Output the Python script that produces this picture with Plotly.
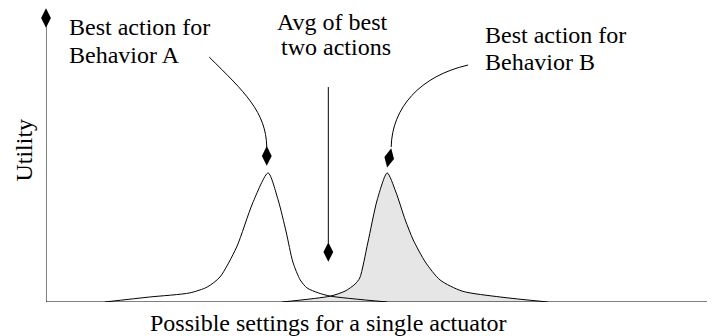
import plotly.graph_objects as go

# utility curves (x = actuator setting, y = utility)
behavior_a_x = [8.8, 15.5, 21.5, 24.1, 26.0, 28.5, 30.9, 33.2, 34.7, 35.9, 36.9, 38.0, 39.0, 40.7, 42.5, 51.0]
behavior_a_y = [0, 1.7, 3.1, 5.1, 8.5, 18.7, 33.7, 43.9, 34.7, 23.8, 13.6, 7.5, 4.8, 3.1, 2.0, 0]

behavior_b_x = [35.3, 42.5, 44.7, 46.2, 46.9, 48.1, 49.5, 51.0, 52.3, 53.7, 54.9, 56.7, 58.9, 62.2, 67.9, 75.0]
behavior_b_y = [0, 2.0, 3.7, 6.1, 8.2, 20.1, 34.7, 43.9, 37.4, 27.9, 21.1, 13.6, 7.5, 3.7, 1.7, 0]

# arrow tips: y axis, x axis, behavior A, average, behavior B
tip_x = [0, 100.3, 33.0, 42.2, 51.3]
tip_y = [96.6, 0, 49.7, 17.0, 49.0]
tip_angle = [0, 90, 0, 0, 12]

font = dict(family='Liberation Serif', size=24, color='black')

fig = go.Figure()

fig.add_trace(go.Scatter(x=behavior_b_x, y=behavior_b_y, mode='lines',
                         line=dict(color='black', width=1, shape='spline', smoothing=0.7),
                         fill='tozeroy', fillcolor='#e6e6e6', hoverinfo='skip'))
fig.add_trace(go.Scatter(x=behavior_a_x, y=behavior_a_y, mode='lines',
                         line=dict(color='black', width=1, shape='spline', smoothing=0.7),
                         hoverinfo='skip'))

# axes
fig.add_shape(type='line', x0=0, y0=0, x1=100, y1=0, line=dict(color='black', width=1))
fig.add_shape(type='line', x0=0, y0=0, x1=0, y1=96.6, line=dict(color='black', width=1))

# pointer arrows
fig.add_shape(type='path', path='M 24.4 83.3 C 29.7 71.4, 32.9 64.6, 33.0 52.7',
              line=dict(color='black', width=1))
fig.add_shape(type='line', x0=42.2, y0=73.1, x1=42.2, y1=20.1, line=dict(color='black', width=1))
fig.add_shape(type='path', path='M 63.1 80.6 C 55.9 76.9, 51.7 66.0, 51.6 52.7',
              line=dict(color='black', width=1))

fig.add_trace(go.Scatter(x=tip_x, y=tip_y, mode='markers', cliponaxis=False,
                         marker=dict(symbol='diamond-tall', size=14, color='black',
                                     angle=tip_angle, line=dict(width=0)),
                         hoverinfo='skip'))

labels = [
    ('Best action for', 0.0333, 0.937),
    ('Behavior A', 0.0333, 0.840),
    ('Avg of best', 0.344, 0.954),
    ('two actions', 0.350, 0.869),
    ('Best action for', 0.655, 0.909),
    ('Behavior B', 0.655, 0.815),
]
for text, x, y in labels:
    fig.add_annotation(text=text, x=x, y=y, xref='paper', yref='paper', showarrow=False,
                       xanchor='left', yanchor='middle', borderpad=0, font=font)

fig.add_annotation(text='Possible settings for a single actuator', x=0.423, y=-0.072,
                   xref='paper', yref='paper', showarrow=False, xanchor='center', yanchor='middle',
                   borderpad=0, font=font)
fig.add_annotation(text='Utility', x=-0.0335, y=0.517, xref='paper', yref='paper', showarrow=False,
                   textangle=-90, xanchor='center', yanchor='middle', borderpad=0, font=font)

# page body has an 8px margin, so the figure is shrunk by that much
fig.update_layout(width=707, height=328,
                  margin=dict(l=38, r=0, t=0, b=34, pad=0),
                  paper_bgcolor='white', plot_bgcolor='white',
                  showlegend=False,
                  xaxis=dict(range=[0, 100], visible=False, fixedrange=True),
                  yaxis=dict(range=[0, 100], visible=False, fixedrange=True))

fig.write_html("out.html")
